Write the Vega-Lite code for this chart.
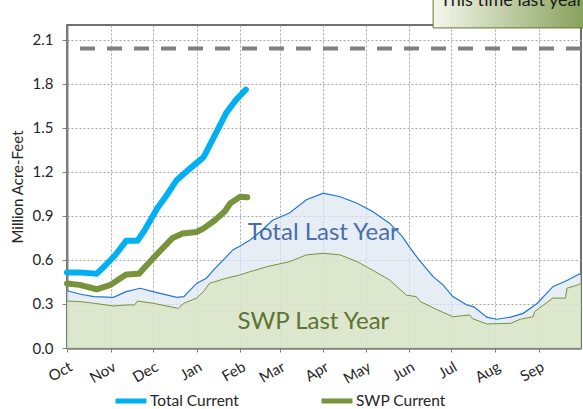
{
  "$schema": "https://vega.github.io/schema/vega-lite/v6.json",
  "width": 514,
  "height": 323,
  "autosize": {"type": "none"},
  "padding": {"left": 67, "top": 25, "right": 2, "bottom": 61},
  "background": "#ffffff",
  "config": {
    "view": {"stroke": "#404040", "strokeWidth": 1.5},
    "font": "Lato",
    "axis": {
      "labelFont": "Lato",
      "labelFontSize": 15,
      "labelColor": "#262626",
      "domainColor": "#808080",
      "domainWidth": 2,
      "tickColor": "#808080",
      "tickSize": 5,
      "gridColor": "#a6a6a6",
      "gridDash": [2, 2],
      "gridWidth": 1,
      "titleFont": "Lato",
      "titleFontWeight": "normal",
      "titleFontSize": 15,
      "titleColor": "#262626"
    },
    "legend": {
      "labelFont": "Lato",
      "labelFontSize": 15.5,
      "labelColor": "#262626"
    }
  },
  "datasets": {
    "series": [
      {"date": "2022-10-01T00:00", "series": "Total Last Year", "value": 0.39},
      {"date": "2022-10-10T00:00", "series": "Total Last Year", "value": 0.368},
      {"date": "2022-10-20T00:00", "series": "Total Last Year", "value": 0.35},
      {"date": "2022-11-03T00:00", "series": "Total Last Year", "value": 0.345},
      {"date": "2022-11-12T00:00", "series": "Total Last Year", "value": 0.384},
      {"date": "2022-11-22T00:00", "series": "Total Last Year", "value": 0.407},
      {"date": "2022-12-01T00:00", "series": "Total Last Year", "value": 0.384},
      {"date": "2022-12-18T00:00", "series": "Total Last Year", "value": 0.345},
      {"date": "2022-12-23T00:00", "series": "Total Last Year", "value": 0.35},
      {"date": "2023-01-01T00:00", "series": "Total Last Year", "value": 0.44},
      {"date": "2023-01-08T00:00", "series": "Total Last Year", "value": 0.475},
      {"date": "2023-01-13T00:00", "series": "Total Last Year", "value": 0.53},
      {"date": "2023-01-27T00:00", "series": "Total Last Year", "value": 0.67},
      {"date": "2023-02-01T00:00", "series": "Total Last Year", "value": 0.695},
      {"date": "2023-02-08T00:00", "series": "Total Last Year", "value": 0.735},
      {"date": "2023-02-15T00:00", "series": "Total Last Year", "value": 0.79},
      {"date": "2023-02-24T00:00", "series": "Total Last Year", "value": 0.87},
      {"date": "2023-03-08T00:00", "series": "Total Last Year", "value": 0.92},
      {"date": "2023-03-20T00:00", "series": "Total Last Year", "value": 1.01},
      {"date": "2023-04-01T00:00", "series": "Total Last Year", "value": 1.055},
      {"date": "2023-04-13T00:00", "series": "Total Last Year", "value": 1.03},
      {"date": "2023-04-25T00:00", "series": "Total Last Year", "value": 0.986},
      {"date": "2023-05-06T00:00", "series": "Total Last Year", "value": 0.93},
      {"date": "2023-05-18T00:00", "series": "Total Last Year", "value": 0.85},
      {"date": "2023-05-27T00:00", "series": "Total Last Year", "value": 0.76},
      {"date": "2023-06-01T00:00", "series": "Total Last Year", "value": 0.69},
      {"date": "2023-06-08T00:00", "series": "Total Last Year", "value": 0.6},
      {"date": "2023-06-18T00:00", "series": "Total Last Year", "value": 0.486},
      {"date": "2023-06-25T00:00", "series": "Total Last Year", "value": 0.43},
      {"date": "2023-07-02T00:00", "series": "Total Last Year", "value": 0.35},
      {"date": "2023-07-12T00:00", "series": "Total Last Year", "value": 0.293},
      {"date": "2023-07-17T00:00", "series": "Total Last Year", "value": 0.28},
      {"date": "2023-07-26T00:00", "series": "Total Last Year", "value": 0.21},
      {"date": "2023-08-02T00:00", "series": "Total Last Year", "value": 0.196},
      {"date": "2023-08-12T00:00", "series": "Total Last Year", "value": 0.21},
      {"date": "2023-08-21T00:00", "series": "Total Last Year", "value": 0.236},
      {"date": "2023-08-31T00:00", "series": "Total Last Year", "value": 0.305},
      {"date": "2023-09-11T00:00", "series": "Total Last Year", "value": 0.418},
      {"date": "2023-09-21T00:00", "series": "Total Last Year", "value": 0.46},
      {"date": "2023-09-29T00:00", "series": "Total Last Year", "value": 0.5},
      {"date": "2023-10-01T00:00", "series": "Total Last Year", "value": 0.505},

      {"date": "2022-10-01T00:00", "series": "SWP Last Year", "value": 0.32},
      {"date": "2022-10-10T00:00", "series": "SWP Last Year", "value": 0.316},
      {"date": "2022-10-20T00:00", "series": "SWP Last Year", "value": 0.305},
      {"date": "2022-11-03T00:00", "series": "SWP Last Year", "value": 0.286},
      {"date": "2022-11-12T00:00", "series": "SWP Last Year", "value": 0.293},
      {"date": "2022-11-18T00:00", "series": "SWP Last Year", "value": 0.293},
      {"date": "2022-11-20T00:00", "series": "SWP Last Year", "value": 0.32},
      {"date": "2022-12-01T00:00", "series": "SWP Last Year", "value": 0.305},
      {"date": "2022-12-19T00:00", "series": "SWP Last Year", "value": 0.27},
      {"date": "2022-12-23T00:00", "series": "SWP Last Year", "value": 0.305},
      {"date": "2023-01-01T00:00", "series": "SWP Last Year", "value": 0.34},
      {"date": "2023-01-06T00:00", "series": "SWP Last Year", "value": 0.384},
      {"date": "2023-01-10T00:00", "series": "SWP Last Year", "value": 0.44},
      {"date": "2023-01-22T00:00", "series": "SWP Last Year", "value": 0.475},
      {"date": "2023-02-01T00:00", "series": "SWP Last Year", "value": 0.498},
      {"date": "2023-02-08T00:00", "series": "SWP Last Year", "value": 0.52},
      {"date": "2023-02-20T00:00", "series": "SWP Last Year", "value": 0.554},
      {"date": "2023-03-08T00:00", "series": "SWP Last Year", "value": 0.588},
      {"date": "2023-03-20T00:00", "series": "SWP Last Year", "value": 0.634},
      {"date": "2023-04-01T00:00", "series": "SWP Last Year", "value": 0.645},
      {"date": "2023-04-13T00:00", "series": "SWP Last Year", "value": 0.634},
      {"date": "2023-04-25T00:00", "series": "SWP Last Year", "value": 0.588},
      {"date": "2023-05-06T00:00", "series": "SWP Last Year", "value": 0.53},
      {"date": "2023-05-18T00:00", "series": "SWP Last Year", "value": 0.464},
      {"date": "2023-05-30T00:00", "series": "SWP Last Year", "value": 0.36},
      {"date": "2023-06-06T00:00", "series": "SWP Last Year", "value": 0.35},
      {"date": "2023-06-09T00:00", "series": "SWP Last Year", "value": 0.316},
      {"date": "2023-06-21T00:00", "series": "SWP Last Year", "value": 0.26},
      {"date": "2023-07-02T00:00", "series": "SWP Last Year", "value": 0.213},
      {"date": "2023-07-14T00:00", "series": "SWP Last Year", "value": 0.225},
      {"date": "2023-07-16T00:00", "series": "SWP Last Year", "value": 0.2},
      {"date": "2023-07-26T00:00", "series": "SWP Last Year", "value": 0.164},
      {"date": "2023-08-12T00:00", "series": "SWP Last Year", "value": 0.168},
      {"date": "2023-08-19T00:00", "series": "SWP Last Year", "value": 0.196},
      {"date": "2023-08-28T00:00", "series": "SWP Last Year", "value": 0.213},
      {"date": "2023-08-29T00:00", "series": "SWP Last Year", "value": 0.247},
      {"date": "2023-09-11T00:00", "series": "SWP Last Year", "value": 0.34},
      {"date": "2023-09-20T00:00", "series": "SWP Last Year", "value": 0.34},
      {"date": "2023-09-21T00:00", "series": "SWP Last Year", "value": 0.407},
      {"date": "2023-09-29T00:00", "series": "SWP Last Year", "value": 0.43},
      {"date": "2023-10-01T00:00", "series": "SWP Last Year", "value": 0.44},

      {"date": "2022-10-01T00:00", "series": "Total Current", "value": 0.515},
      {"date": "2022-10-10T00:00", "series": "Total Current", "value": 0.515},
      {"date": "2022-10-17T00:00", "series": "Total Current", "value": 0.51},
      {"date": "2022-10-22T00:00", "series": "Total Current", "value": 0.505},
      {"date": "2022-10-28T00:00", "series": "Total Current", "value": 0.56},
      {"date": "2022-11-04T00:00", "series": "Total Current", "value": 0.63},
      {"date": "2022-11-12T00:00", "series": "Total Current", "value": 0.73},
      {"date": "2022-11-20T00:00", "series": "Total Current", "value": 0.73},
      {"date": "2022-11-25T00:00", "series": "Total Current", "value": 0.8},
      {"date": "2022-12-04T00:00", "series": "Total Current", "value": 0.95},
      {"date": "2022-12-10T00:00", "series": "Total Current", "value": 1.03},
      {"date": "2022-12-18T00:00", "series": "Total Current", "value": 1.145},
      {"date": "2022-12-27T00:00", "series": "Total Current", "value": 1.22},
      {"date": "2023-01-06T00:00", "series": "Total Current", "value": 1.3},
      {"date": "2023-01-14T00:00", "series": "Total Current", "value": 1.45},
      {"date": "2023-01-22T00:00", "series": "Total Current", "value": 1.6},
      {"date": "2023-01-29T00:00", "series": "Total Current", "value": 1.69},
      {"date": "2023-02-05T00:00", "series": "Total Current", "value": 1.76},

      {"date": "2022-10-01T00:00", "series": "SWP Current", "value": 0.44},
      {"date": "2022-10-10T00:00", "series": "SWP Current", "value": 0.43},
      {"date": "2022-10-22T00:00", "series": "SWP Current", "value": 0.4},
      {"date": "2022-11-01T00:00", "series": "SWP Current", "value": 0.43},
      {"date": "2022-11-12T00:00", "series": "SWP Current", "value": 0.5},
      {"date": "2022-11-21T00:00", "series": "SWP Current", "value": 0.505},
      {"date": "2022-12-01T00:00", "series": "SWP Current", "value": 0.61},
      {"date": "2022-12-15T00:00", "series": "SWP Current", "value": 0.75},
      {"date": "2022-12-22T00:00", "series": "SWP Current", "value": 0.78},
      {"date": "2023-01-01T00:00", "series": "SWP Current", "value": 0.79},
      {"date": "2023-01-06T00:00", "series": "SWP Current", "value": 0.815},
      {"date": "2023-01-14T00:00", "series": "SWP Current", "value": 0.87},
      {"date": "2023-01-21T00:00", "series": "SWP Current", "value": 0.93},
      {"date": "2023-01-25T00:00", "series": "SWP Current", "value": 0.986},
      {"date": "2023-02-01T00:00", "series": "SWP Current", "value": 1.03},
      {"date": "2023-02-06T00:00", "series": "SWP Current", "value": 1.027}
    ],
    "one": [{}]
  },
  "data": {"name": "series"},
  "layer": [
    {
      "transform": [{"filter": "datum.series === 'Total Last Year'"}],
      "mark": {"type": "area", "color": "#dbe5f1", "line": {"color": "#1f77d0", "strokeWidth": 1.2}},
      "encoding": {
        "x": {
          "field": "date", "type": "temporal",
          "scale": {"domain": [{"year": 2022, "month": 10, "date": 1}, {"year": 2023, "month": 10, "date": 1}]},
          "axis": {
            "title": null,
            "format": "%b",
            "labelAngle": -30,
            "labelAlign": "right",
            "labelBaseline": "top",
            "labelPadding": 7,
            "tickSize": 4,
            "domainWidth": 2.5,
            "values": [
              {"year": 2022, "month": 10, "date": 1},
              {"year": 2022, "month": 11, "date": 1},
              {"year": 2022, "month": 12, "date": 1},
              {"year": 2023, "month": 1, "date": 1},
              {"year": 2023, "month": 2, "date": 1},
              {"year": 2023, "month": 3, "date": 1},
              {"year": 2023, "month": 4, "date": 1},
              {"year": 2023, "month": 5, "date": 1},
              {"year": 2023, "month": 6, "date": 1},
              {"year": 2023, "month": 7, "date": 1},
              {"year": 2023, "month": 8, "date": 1},
              {"year": 2023, "month": 9, "date": 1}
            ]
          }
        },
        "y": {
          "field": "value", "type": "quantitative",
          "scale": {"domain": [0, 2.2], "nice": false},
          "axis": {
            "title": "Million Acre-Feet",
            "values": [0, 0.3, 0.6, 0.9, 1.2, 1.5, 1.8, 2.1],
            "format": ".1f",
            "labelPadding": 9,
            "titlePadding": 7
          }
        }
      }
    },
    {
      "transform": [{"filter": "datum.series === 'SWP Last Year'"}],
      "mark": {"type": "area", "color": "#d7e4bd", "line": {"color": "#77933c", "strokeWidth": 1}},
      "encoding": {
        "x": {"field": "date", "type": "temporal", "title": null},
        "y": {"field": "value", "type": "quantitative", "title": "Million Acre-Feet"}
      }
    },
    {
      "data": {"name": "one"},
      "mark": {"type": "text", "font": "Lato", "fontSize": 24, "color": "#4a6ea9", "align": "center", "baseline": "middle"},
      "encoding": {
        "x": {"datum": {"year": 2023, "month": 4, "date": 1}, "type": "temporal"},
        "y": {"datum": 0.784, "type": "quantitative"},
        "text": {"value": "Total Last Year"}
      }
    },
    {
      "data": {"name": "one"},
      "mark": {"type": "text", "font": "Lato", "fontSize": 24, "color": "#5e7331", "align": "center", "baseline": "middle"},
      "encoding": {
        "x": {"datum": {"year": 2023, "month": 3, "date": 25}, "type": "temporal"},
        "y": {"datum": 0.18, "type": "quantitative"},
        "text": {"value": "SWP Last Year"}
      }
    },
    {
      "data": {"name": "one"},
      "mark": {"type": "rule", "color": "#808080", "strokeWidth": 4, "strokeDash": [15, 12]},
      "encoding": {"y": {"datum": 2.04, "type": "quantitative"}}
    },
    {
      "transform": [{"filter": "datum.series === 'Total Current' || datum.series === 'SWP Current'"}],
      "mark": {"type": "line", "strokeWidth": 6, "strokeCap": "round", "strokeJoin": "round"},
      "encoding": {
        "x": {"field": "date", "type": "temporal", "title": null},
        "y": {"field": "value", "type": "quantitative", "title": "Million Acre-Feet"},
        "color": {
          "field": "series", "type": "nominal",
          "scale": {"domain": ["Total Current", "SWP Current"], "range": ["#00b0f0", "#77933c"]},
          "legend": {
            "title": null,
            "orient": "none",
            "direction": "horizontal",
            "legendX": 46,
            "legendY": 358,
            "padding": 0,
            "symbolType": "stroke",
            "symbolSize": 961,
            "symbolStrokeWidth": 5,
            "labelOffset": 1,
            "columnPadding": 72
          }
        }
      }
    },
    {
      "data": {"name": "one"},
      "mark": {
        "type": "rect",
        "stroke": "#5f7a2a",
        "strokeWidth": 1,
        "fill": {"gradient": "linear", "x1": 0, "y1": 0, "x2": 1, "y2": 0, "stops": [{"offset": 0, "color": "#f4f7ec"}, {"offset": 1, "color": "#5d7f22"}]}
      },
      "encoding": {
        "x": {"datum": {"year": 2023, "month": 6, "date": 18}, "type": "temporal"},
        "x2": {"datum": {"year": 2023, "month": 11, "date": 15}},
        "y": {"datum": 2.18, "type": "quantitative"},
        "y2": {"datum": 2.5}
      }
    },
    {
      "data": {"name": "one"},
      "mark": {"type": "text", "font": "Lato", "fontSize": 18, "color": "#1a1a1a", "align": "left", "baseline": "alphabetic"},
      "encoding": {
        "x": {"datum": {"year": 2023, "month": 6, "date": 23}, "type": "temporal"},
        "y": {"datum": 2.33, "type": "quantitative"},
        "text": {"value": "This time last year"}
      }
    }
  ]
}
